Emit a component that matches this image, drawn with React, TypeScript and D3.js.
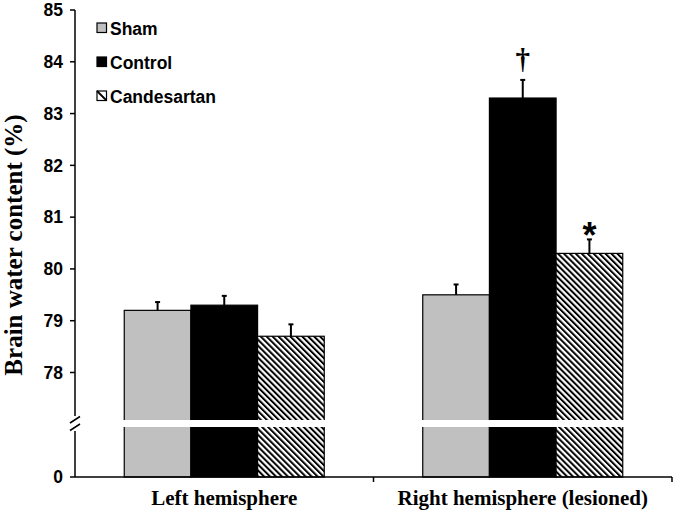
import React from "react";
import * as d3 from "d3";

const groups = ["Left hemisphere", "Right hemisphere (lesioned)"];
const series = ["Sham", "Control", "Candesartan"];
const shamValues = [79.2, 79.5];
const controlValues = [79.3, 83.3];
const candesartanValues = [78.7, 80.3];
const shamErrors = [0.16, 0.2];
const controlErrors = [0.18, 0.35];
const candesartanErrors = [0.23, 0.27];
const upperTicks = [78, 79, 80, 81, 82, 83, 84, 85];
const lowerTicks = [0];
const markers = [
  { group: 1, series: 1, text: "\u2020" },
  { group: 1, series: 2, text: "*" },
];

const W = 675;
const H = 510;

export default function App() {
  const axisX = 75;
  const axisRight = 672;
  const zeroY = 477;
  const breakTop = 420;
  const breakBottom = 427;

  const yUpper = d3.scaleLinear().domain([78, 85]).range([372.5, 10]);
  const yLower = d3.scaleLinear().domain([0, 1]).range([zeroY, breakBottom]);

  const x0 = d3.scaleBand<string>().domain(groups).range([axisX, axisRight]);
  const groupWidth = 200;
  const x1 = d3.scaleBand<string>().domain(series).range([0, groupWidth]);

  const valuesBySeries = [shamValues, controlValues, candesartanValues];
  const errorsBySeries = [shamErrors, controlErrors, candesartanErrors];
  const fills = ["#c0c0c0", "#000000", "url(#hatch)"];
  const legendFills = ["#c0c0c0", "#000000", "#ffffff"];

  const barX = (gi: number, si: number) =>
    (x0(groups[gi]) as number) + (x0.bandwidth() - groupWidth) / 2 + (x1(series[si]) as number);

  const bars: React.ReactNode[] = [];
  const errs: React.ReactNode[] = [];
  groups.forEach((g, gi) => {
    series.forEach((s, si) => {
      const v = valuesBySeries[si][gi];
      const e = errorsBySeries[si][gi];
      const x = barX(gi, si);
      const w = x1.bandwidth();
      const yTop = yUpper(v);
      bars.push(
        <rect key={`b-${gi}-${si}`} x={x} y={yTop} width={w} height={zeroY - yTop}
          fill={fills[si]} stroke="#000" strokeWidth={1.2} />
      );
      const cx = x + w / 2;
      const ye = yUpper(v + e);
      errs.push(
        <g key={`e-${gi}-${si}`}>
          <line x1={cx} x2={cx} y1={yTop} y2={ye} stroke="#000" strokeWidth={2} />
          <line x1={cx - 2.5} x2={cx + 2.5} y1={ye} y2={ye} stroke="#000" strokeWidth={2} />
        </g>
      );
    });
  });

  const legendX = 97;
  const legendY0 = 35;
  const legendStep = 34;

  return (
    <svg width={W} height={H} style={{ position: "absolute", left: 0, top: 0 }}>
      <defs>
        <pattern id="hatch" patternUnits="userSpaceOnUse" width={4.2} height={4.2}
          patternTransform="rotate(-45)">
          <rect x={0} y={0} width={4.2} height={4.2} fill="#fff" />
          <line x1={1} x2={1} y1={0} y2={4.2} stroke="#000" strokeWidth={2} />
        </pattern>
      </defs>
      <rect x={0} y={0} width={W} height={H} fill="#fff" />
      {bars}
      {errs}
      {/* break band */}
      <rect x={axisX + 1} y={breakTop} width={axisRight - axisX - 4} height={breakBottom - breakTop} fill="#fff" />

      {/* y axis */}
      <line x1={axisX} x2={axisX} y1={yUpper(85)} y2={416} stroke="#000" strokeWidth={1.5} />
      <line x1={axisX} x2={axisX} y1={431} y2={zeroY} stroke="#000" strokeWidth={1.5} />
      <line x1={70} x2={80} y1={423} y2={416.5} stroke="#000" strokeWidth={1.5} />
      <line x1={70} x2={80} y1={430.5} y2={424} stroke="#000" strokeWidth={1.5} />
      {upperTicks.map((t) => (
        <g key={`yt-${t}`}>
          <line x1={axisX - 5} x2={axisX} y1={yUpper(t)} y2={yUpper(t)} stroke="#000" strokeWidth={1.5} />
          <text x={63} y={yUpper(t)} dy="0.36em" textAnchor="end"
            fontFamily="Liberation Sans, Arial, sans-serif" fontWeight="bold" fontSize={17.5}>{t}</text>
        </g>
      ))}
      {lowerTicks.map((t) => (
        <g key={`ylt-${t}`}>
          <line x1={axisX - 5} x2={axisX} y1={yLower(t)} y2={yLower(t)} stroke="#000" strokeWidth={1.5} />
          <text x={63} y={yLower(t)} dy="0.36em" textAnchor="end"
            fontFamily="Liberation Sans, Arial, sans-serif" fontWeight="bold" fontSize={17.5}>{t}</text>
        </g>
      ))}

      {/* x axis */}
      <line x1={axisX} x2={axisRight} y1={zeroY} y2={zeroY} stroke="#000" strokeWidth={1.5} />
      {[axisX + x0.bandwidth(), axisRight].map((tx, i) => (
        <line key={`xt-${i}`} x1={tx} x2={tx} y1={zeroY} y2={zeroY + 5} stroke="#000" strokeWidth={1.5} />
      ))}
      {groups.map((g) => (
        <text key={`xl-${g}`} x={(x0(g) as number) + x0.bandwidth() / 2} y={505} textAnchor="middle"
          fontFamily="Liberation Serif, Times New Roman, serif" fontWeight="bold" fontSize={21}>{g}</text>
      ))}

      {/* y title */}
      <text transform={`translate(22, 245) rotate(-90)`} textAnchor="middle"
        fontFamily="Liberation Serif, Times New Roman, serif" fontWeight="bold" fontSize={25}>
        Brain water content (%)
      </text>

      {/* markers */}
      {markers.map((m, i) => {
        const si = m.series;
        const gi = m.group;
        const cx = barX(gi, si) + x1.bandwidth() / 2;
        const top = yUpper(valuesBySeries[si][gi] + errorsBySeries[si][gi]);
        return m.text === "*" ? (
          <text key={`m-${i}`} x={cx} y={top + 9} textAnchor="middle"
            fontFamily="Liberation Sans, Arial, sans-serif" fontWeight="bold" fontSize={36}>{m.text}</text>
        ) : (
          <text key={`m-${i}`} x={cx} y={top - 11} textAnchor="middle"
            fontFamily="Liberation Serif, Times New Roman, serif" fontWeight="bold" fontSize={29}>{m.text}</text>
        );
      })}

      {/* legend */}
      {series.map((s, si) => {
        const by = legendY0 + si * legendStep;
        return (
          <g key={`lg-${s}`}>
            <rect x={legendX} y={by - 12} width={9.5} height={9.5} fill={legendFills[si]} stroke="#000" strokeWidth={1.2} />
            {si === 2 && (
              <line x1={legendX} y1={by - 12} x2={legendX + 9.5} y2={by - 2.5} stroke="#000" strokeWidth={1.8} />
            )}
            <text x={110} y={by} fontFamily="Liberation Sans, Arial, sans-serif" fontWeight="bold" fontSize={17.5}>{s}</text>
          </g>
        );
      })}
    </svg>
  );
}
